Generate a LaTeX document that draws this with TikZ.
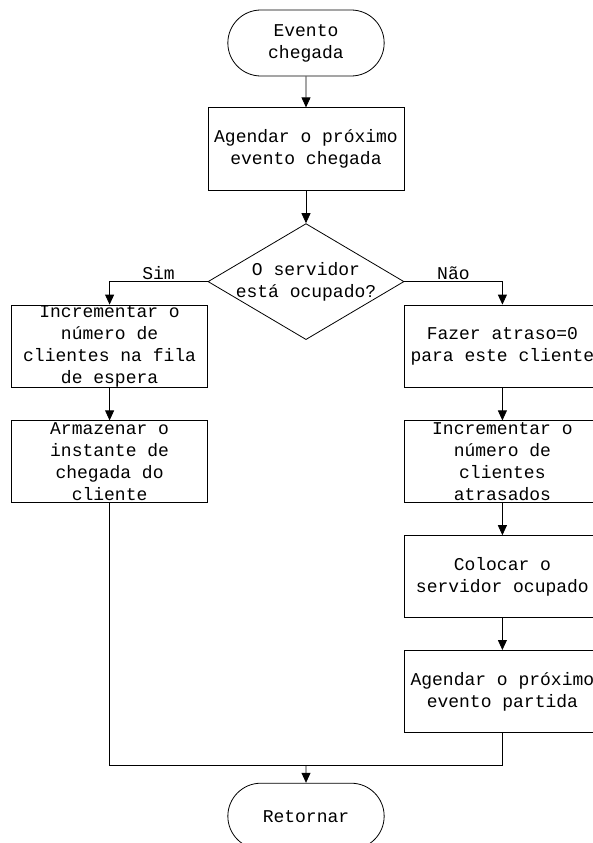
\documentclass[tikz,border=0pt]{standalone}
\usepackage{fontspec}
\setmonofont{Liberation Mono}
\usetikzlibrary{arrows.meta,positioning,shapes.geometric,shapes.misc}

\begin{document}
\begin{tikzpicture}[x=1pt, y=-1pt, line width=0.8pt,
  base/.style={draw, align=center, font=\ttfamily\fontsize{18}{22}\selectfont},
  term/.style={base, rounded rectangle, minimum width=163pt, minimum height=66pt},
  box/.style={base, rectangle, minimum width=196pt, minimum height=82pt, inner sep=0pt},
  cond/.style={base, diamond, aspect=1.69, minimum width=196pt, minimum height=116pt, inner sep=-12pt},
  lbl/.style={font=\ttfamily\fontsize{18}{22}\selectfont, inner sep=2pt},
  >={Triangle[length=10pt,width=9pt]}, node distance=32pt
]
\useasboundingbox (0,0) rectangle (592,843);
\node[term] (chegada) at (306,43) {Evento\\chegada};
\node[box, below=31pt of chegada, minimum height=83pt] (agchg) {Agendar o próximo\\evento chegada};
\node[cond, below=of agchg] (ocup) {O servidor\\está ocupado?};
% ramo Sim
\node[box, below=23pt of ocup.west, xshift=-98pt] (incfila) {Incrementar o\\número de\\clientes na fila\\de espera};
\node[box, below=33pt of incfila] (armaz) {Armazenar o\\instante de\\chegada do\\cliente};
% ramo Nao
\node[box, below=23pt of ocup.east, xshift=98pt] (fazer) {Fazer atraso=0\\para este cliente};
\node[box, below=33pt of fazer] (incatr) {Incrementar o\\número de\\clientes\\atrasados};
\node[box, below=of incatr] (colocar) {Colocar o\\servidor ocupado};
\node[box, below=of colocar] (partida) {Agendar o próximo\\evento partida};
\coordinate[below=33pt of partida] (jr);
\coordinate (jm) at (jr -| ocup);
\node[term, below=17pt of jm] (ret) {Retornar};

\draw[->] (chegada) -- (agchg);
\draw[->] (agchg) -- (ocup);
\draw[->] (ocup.west) -| node[lbl, above, pos=0.25] {Sim} (incfila);
\draw[->] (ocup.east) -| node[lbl, above, pos=0.25] {Não} (fazer);
\draw[->] (incfila) -- (armaz);
\draw[->] (fazer) -- (incatr);
\draw[->] (incatr) -- (colocar);
\draw[->] (colocar) -- (partida);
\draw (armaz) |- (jr) -- (partida);
\draw[->] (jm) -- (ret);
\end{tikzpicture}
\end{document}
